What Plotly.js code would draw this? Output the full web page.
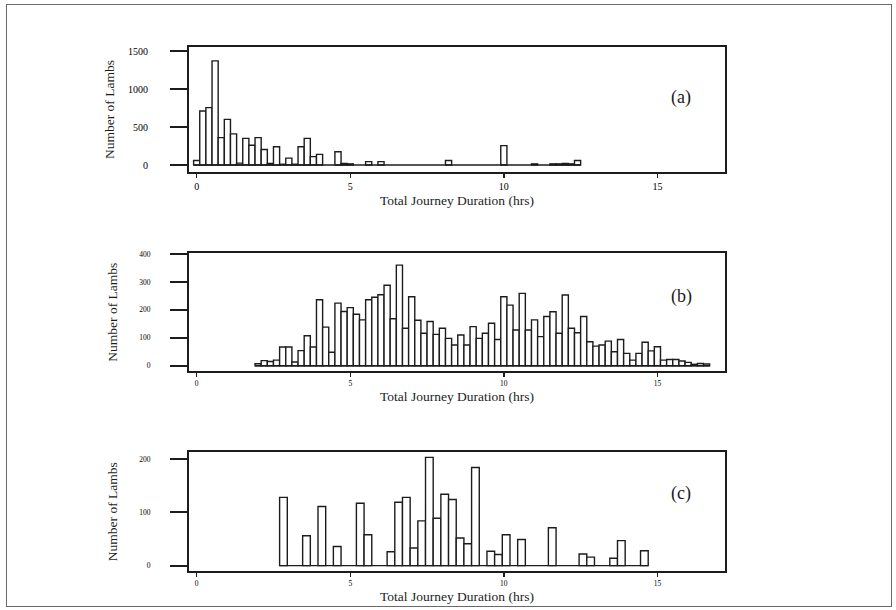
<!DOCTYPE html>
<html>
<head>
<meta charset="utf-8">
<script src="https://cdn.plot.ly/plotly-3.0.1.min.js"></script>
<style>
  html, body { margin: 0; padding: 0; background: #ffffff; }
  #wrap { position: relative; width: 896px; height: 610px; }
  #chart { width: 896px; height: 610px; }
  #border { position: absolute; left: 6px; top: 4px; width: 884px; height: 601px;
            border: 1.5px solid #6a6a6a; pointer-events: none; }
</style>
</head>
<body>
<div id="wrap">
  <div id="chart"></div>
  <div id="border"></div>
</div>
<script>
// Panel (a): 0.2 h bins (bin centres, hours) and lamb counts
const hoursA = [0.0, 0.2, 0.4, 0.6, 0.8, 1.0, 1.2, 1.4, 1.6, 1.8, 2.0, 2.2, 2.4, 2.6, 2.8,
                3.0, 3.2, 3.4, 3.6, 3.8, 4.0, 4.6, 4.8, 5.0, 5.6, 6.0, 8.2, 10.0,
                11.0, 11.6, 11.8, 12.0, 12.2, 12.4];
const lambsA = [60, 710, 755, 1370, 360, 600, 410, 25, 350, 260, 360, 205, 20, 240, 10,
                90, 10, 240, 350, 110, 140, 175, 20, 15, 45, 45, 60, 255,
                15, 15, 15, 20, 15, 60];
const binWidthA = 0.2;

// Panel (b): 0.2 h bins
const hoursB = [2.0, 2.2, 2.4, 2.6, 2.8, 3.0, 3.2, 3.4, 3.6, 3.8, 4.0, 4.2, 4.4, 4.6, 4.8,
                5.0, 5.2, 5.4, 5.6, 5.8, 6.0, 6.2, 6.4, 6.6, 6.8, 7.0, 7.2, 7.4, 7.6, 7.8,
                8.0, 8.2, 8.4, 8.6, 8.8, 9.0, 9.2, 9.4, 9.6, 9.8, 10.0, 10.2, 10.4, 10.6, 10.8,
                11.0, 11.2, 11.4, 11.6, 11.8, 12.0, 12.2, 12.4, 12.6, 12.8, 13.0, 13.2, 13.4, 13.6, 13.8,
                14.0, 14.2, 14.4, 14.6, 14.8, 15.0, 15.2, 15.4, 15.6, 15.8, 16.0, 16.2, 16.4, 16.6];
const lambsB = [7, 18, 15, 20, 67, 67, 13, 54, 107, 67, 236, 138, 48, 224, 194,
                208, 184, 164, 236, 245, 254, 288, 168, 360, 134, 247, 163, 116, 158, 112,
                134, 98, 74, 110, 74, 140, 98, 116, 152, 94, 247, 217, 128, 259, 128,
                164, 104, 176, 193, 116, 253, 134, 118, 176, 86, 70, 74, 88, 50, 94,
                44, 20, 44, 84, 53, 68, 20, 22, 22, 17, 12, 5, 8, 6];
const binWidthB = 0.2;

// Panel (c): 0.25 h bins
const hoursC = [2.825, 3.575, 4.075, 4.575, 5.325, 5.575, 6.325, 6.575, 6.825, 7.075,
                7.325, 7.575, 7.825, 8.075, 8.325, 8.575, 8.825, 9.075, 9.575, 9.825,
                10.075, 10.575, 11.575, 12.575, 12.825, 13.575, 13.825, 14.575];
const lambsC = [128, 56, 111, 36, 117, 58, 26, 119, 128, 33,
                84, 203, 89, 134, 124, 52, 41, 184, 27, 21,
                58, 49, 71, 22, 16, 14, 47, 28];
const binWidthC = 0.25;

const xTicks = [0, 5, 10, 15];
const xTickText = ['0', '5', '10', '15'];
const yTicksA = [0, 500, 1000, 1500];
const yTicksB = [0, 100, 200, 300, 400];
const yTicksC = [0, 100, 200];
const panelLabels = ['(a)', '(b)', '(c)'];
const xTitle = 'Total Journey Duration (hrs)';
const yTitle = 'Number of Lambs';

const ink = '#1c1c1c';
const serif = '"Liberation Serif", "Times New Roman", serif';

function barTrace(hours, lambs, w, ax) {
  return {
    type: 'bar', x: hours, y: lambs, width: w,
    xaxis: 'x' + ax, yaxis: 'y' + ax,
    marker: { color: '#ffffff', line: { color: ink, width: 1.4 } },
    hoverinfo: 'x+y'
  };
}
// zero baseline across the whole span of bins
function baseTrace(hours, w, ax) {
  const x0 = hours[0] - w / 2, x1 = hours[hours.length - 1] + w / 2;
  return {
    type: 'scatter', mode: 'lines', x: [x0, x1], y: [0, 0],
    xaxis: 'x' + ax, yaxis: 'y' + ax,
    line: { color: ink, width: 1.4 }, hoverinfo: 'skip'
  };
}

const data = [
  baseTrace(hoursA, binWidthA, ''), barTrace(hoursA, lambsA, binWidthA, ''),
  baseTrace(hoursB, binWidthB, '2'), barTrace(hoursB, lambsB, binWidthB, '2'),
  baseTrace(hoursC, binWidthC, '3'), barTrace(hoursC, lambsC, binWidthC, '3')
];

const xDom = [189 / 896, 725 / 896];
function xAxis(anchor, tickSize, standoff) {
  return {
    domain: xDom, anchor: anchor, range: [-0.25, 17.2],
    tickmode: 'array', tickvals: xTicks, ticktext: xTickText,
    ticks: 'outside', ticklen: 4, tickwidth: 1.5, tickcolor: ink,
    showline: true, mirror: true, linewidth: 2, linecolor: ink,
    showgrid: false, zeroline: false,
    tickfont: { family: serif, size: tickSize, color: '#000000' },
    title: { text: xTitle, font: { family: serif, size: 13.5, color: ink }, standoff: standoff }
  };
}
function yAxis(anchor, dom, range, ticks, tickSize, labelGap, standoff) {
  return {
    domain: dom, anchor: anchor, range: range,
    tickmode: 'array', tickvals: ticks,
    ticks: 'outside', ticklen: 17, tickwidth: 2, tickcolor: ink,
    ticklabelstandoff: labelGap,
    showline: true, mirror: true, linewidth: 2, linecolor: ink,
    showgrid: false, zeroline: false,
    tickfont: { family: serif, size: tickSize, color: '#000000' },
    title: { text: yTitle, font: { family: serif, size: 13.5, color: ink }, standoff: standoff }
  };
}

function panelLabel(text, yPx) {
  return {
    text: text, xref: 'paper', yref: 'paper', x: 681 / 896, y: 1 - yPx / 610,
    xanchor: 'center', yanchor: 'middle', showarrow: false,
    font: { family: serif, size: 18, color: ink }
  };
}

const layout = {
  width: 896, height: 610,
  margin: { l: 0, r: 0, t: 0, b: 0 },
  paper_bgcolor: '#ffffff', plot_bgcolor: '#ffffff',
  showlegend: false, bargap: 0, barmode: 'overlay',
  font: { family: serif, color: ink },
  xaxis: xAxis('y', 10, 5),
  yaxis: yAxis('x', [1 - 172 / 610, 1 - 47 / 610], [-92, 1553], yTicksA, 10, 20, 10),
  xaxis2: xAxis('y2', 7.5, 5),
  yaxis2: yAxis('x2', [1 - 371 / 610, 1 - 253.3 / 610], [-19, 402.5], yTicksB, 7.5, 18, 19),
  xaxis3: xAxis('y3', 7.5, 5),
  yaxis3: yAxis('x3', [1 - 571 / 610, 1 - 452.3 / 610], [-10, 212.6], yTicksC, 7.5, 18, 19),
  annotations: [
    panelLabel(panelLabels[0], 97),
    panelLabel(panelLabels[1], 296),
    panelLabel(panelLabels[2], 493)
  ]
};

Plotly.newPlot('chart', data, layout, { staticPlot: true, displayModeBar: false });
</script>
</body>
</html>
